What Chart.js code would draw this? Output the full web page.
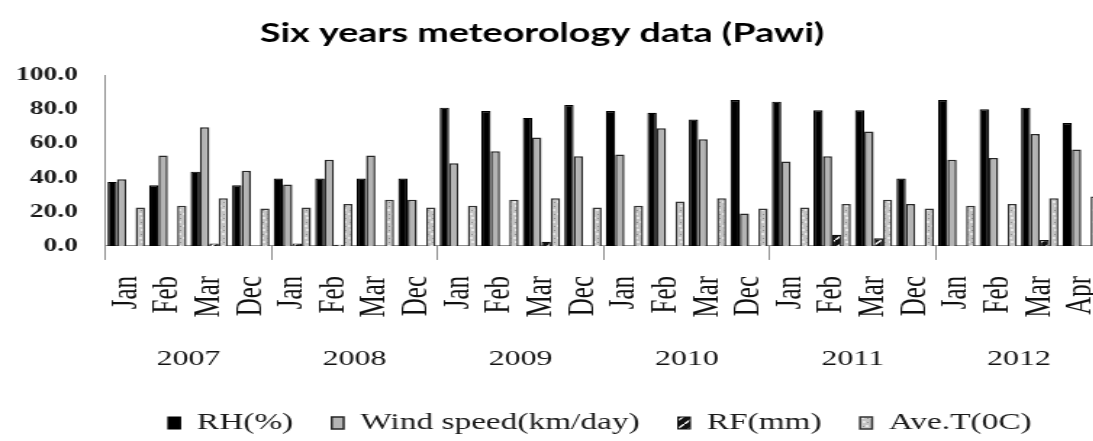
<!DOCTYPE html>
<html>
<head>
<meta charset="utf-8">
<script src="https://cdn.jsdelivr.net/npm/chart.js@4.4.1/dist/chart.umd.min.js"></script>
<style>
html, body { margin: 0; padding: 0; background: #ffffff; overflow: hidden; width: 1093px; height: 441px; }
#c { display: block; }
</style>
</head>
<body>
<canvas id="c" width="760" height="441" style="width:1102px;height:441px"></canvas>
<script>
// ---- data ----
const months = ['Jan','Feb','Mar','Dec','Jan','Feb','Mar','Dec','Jan','Feb','Mar','Dec',
                'Jan','Feb','Mar','Dec','Jan','Feb','Mar','Dec','Jan','Feb','Mar','Apr'];
const years = ['2007','2008','2009','2010','2011','2012'];
const yTickStep = 20;
const rh   = [37.5, 35.5, 43.5, 35.5, 39.5, 39.5, 39.5, 39.5, 81, 79, 75, 82.5,
              79, 78, 74, 85.5, 84.5, 79.5, 79.5, 39.5, 85.5, 80, 81, 72];
const wind = [39, 53, 69.5, 44, 36, 50.5, 53, 27, 48.5, 55.5, 63.5, 52.5,
              53.5, 69, 62.5, 19, 49.5, 52.5, 67, 24.5, 50.5, 51.5, 65.5, 56.5];
const rf   = [0, 0, 1.5, 0, 1.5, 0.7, 0, 0, 0, 0, 2.5, 0,
              0, 0, 0, 0, 0, 6.5, 4.5, 0, 0, 0, 3.5, 0];
const aveT = [22.5, 23.5, 28, 22, 22.5, 24.5, 27, 22.5, 23.5, 27, 28, 22.5,
              23.5, 26, 28, 22, 22.5, 24.5, 27, 22, 23.5, 24.5, 28, 29];
const seriesNames = ['RH(%)', 'Wind speed(km/day)', 'RF(mm)', 'Ave.T(0C)'];

// ---- styling ----
const S = 1102 / 760; // horizontal stretch of the picture
function makePattern(w, h, draw) {
  const c = document.createElement('canvas');
  c.width = w; c.height = h;
  const g = c.getContext('2d');
  draw(g);
  return g.createPattern(c, 'repeat');
}
const ctx = document.getElementById('c').getContext('2d');
const rfPattern = makePattern(8, 8, g => {
  g.fillStyle = '#111'; g.fillRect(0, 0, 8, 8);
  g.strokeStyle = '#ffffff'; g.lineWidth = 1.4;
  g.beginPath(); g.moveTo(0, 8); g.lineTo(8, 0); g.stroke();
});
const tPattern = makePattern(6, 12, g => {
  g.fillStyle = '#c4c4c4'; g.fillRect(0, 0, 6, 12);
  g.fillStyle = '#e6e6e6';
  g.fillRect(1, 1, 2, 2); g.fillRect(3, 5, 2, 2); g.fillRect(0, 9, 2, 2);
  g.fillStyle = '#8e8e8e';
  g.fillRect(4, 2, 1, 1); g.fillRect(1, 6, 1, 1); g.fillRect(4, 10, 1, 1);
});

const placeBoxes = {
  id: 'placeBoxes',
  afterLayout(chart) {
    const t = chart.titleBlock;
    const cx = 542 / S;
    t.left = cx - 370; t.right = cx + 370;
    const lg = chart.legend;
    const p = lg.options.labels.padding;
    lg.left = 116 - p; lg.right = lg.left + 2000;
    lg.top = 423 - 11.5 - p; lg.bottom = lg.top + 120;
  }
};
const noSidePadding = s => { s.paddingLeft = 0; s.paddingRight = 0; };

new Chart(ctx, {
  type: 'bar',
  data: {
    labels: months,
    datasets: [
      { label: seriesNames[0], data: rh, backgroundColor: '#000000', borderColor: '#000000', borderWidth: 1.2 },
      { label: seriesNames[1], data: wind, backgroundColor: '#b4b4b4', borderColor: '#262626', borderWidth: 1.5 },
      { label: seriesNames[2], data: rf, backgroundColor: rfPattern, borderColor: '#111111', borderWidth: 1.2 },
      { label: seriesNames[3], data: aveT, backgroundColor: tPattern, borderColor: '#333333', borderWidth: 1.5 }
    ]
  },
  options: {
    responsive: false,
    animation: false,
    devicePixelRatio: 1,
    layout: { padding: { left: -8, right: 0, top: 0, bottom: 64 } },
    datasets: { bar: { categoryPercentage: 0.9, barPercentage: 1.0 } },
    plugins: {
      title: {
        display: true,
        text: 'Six years meteorology data (Pawi)',
        color: '#000000',
        font: { family: 'Lato', weight: 'bold', size: 26 },
        padding: { top: 18, bottom: 26 }
      },
      legend: {
        display: true,
        position: 'bottom',
        align: 'start',
        maxHeight: 1,
        labels: {
          color: '#1a1a1a',
          font: { family: 'Liberation Serif', size: 23 },
          boxWidth: 8.3,
          boxHeight: 12,
          padding: 26.5
        }
      },
      tooltip: { enabled: false }
    },
    scales: {
      x: {
        type: 'category',
        position: 'bottom',
        weight: 0,
        offset: true,
        afterFit: noSidePadding,
        border: { display: true, color: '#8c8c8c', width: 1 },
        grid: {
          display: true, offset: true, drawOnChartArea: false, drawTicks: true, tickLength: 14,
          color: c => (c.index % 4 === 0 ? '#8c8c8c' : 'rgba(0,0,0,0)')
        },
        ticks: {
          autoSkip: false, minRotation: 90, maxRotation: 90, padding: 16,
          color: '#111111', font: { family: 'Liberation Serif', size: 25 }
        }
      },
      x2: {
        type: 'category',
        position: 'bottom',
        weight: 1,
        labels: years,
        offset: true,
        afterFit: noSidePadding,
        border: { display: false },
        grid: { display: false },
        ticks: {
          autoSkip: false, maxRotation: 0, minRotation: 0, padding: 4,
          color: '#111111', font: { family: 'Liberation Serif', size: 22 }
        }
      },
      y: {
        min: 0, max: 100,
        border: { display: true, color: '#8c8c8c', width: 1 },
        grid: { display: false, drawTicks: false },
        ticks: {
          stepSize: yTickStep, padding: 19, autoSkip: false, maxTicksLimit: 11,
          color: '#1a1a1a', font: { family: 'Liberation Serif', weight: 'bold', size: 19 },
          callback: v => Number(v).toFixed(1)
        }
      }
    }
  },
  plugins: [placeBoxes]
});
</script>
</body>
</html>
